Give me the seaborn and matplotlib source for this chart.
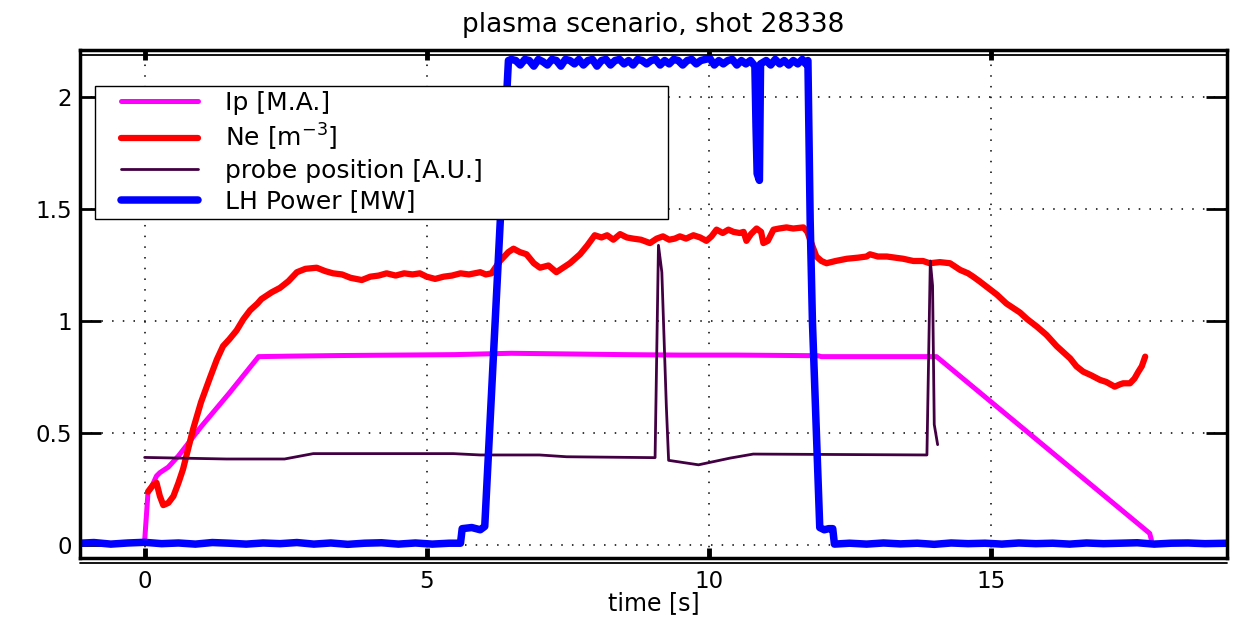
import numpy as np
import pandas as pd
import matplotlib
matplotlib.use("Agg")
import matplotlib.pyplot as plt
import seaborn as sns
from matplotlib.lines import Line2D
from matplotlib.legend_handler import HandlerLine2D

# ---------------- data ----------------
title = "plasma scenario, shot 28338"
xlabel = "time [s]"
labels = ["Ip [M.A.]", r"Ne [m$^{-3}$]", "probe position [A.U.]", "LH Power [MW]"]
xticks = [0, 5, 10, 15]
xticklabels = ["0", "5", "10", "15"]
yticks = [0, 0.5, 1, 1.5, 2]
yticklabels = ["0", "0.5", "1", "1.5", "2"]

ip_t = [0.0, 0.06, 0.12, 0.21, 0.27, 0.42, 0.6, 1.0, 1.5, 2.02, 2.5, 3.5, 4.5, 5.5,
        6.5, 7.5, 8.5, 9.5, 10.5, 11.5, 11.94, 12.0, 13.0, 14.04, 17.82, 17.85]
ip_v = [0.02, 0.24, 0.26, 0.31, 0.325, 0.35, 0.40, 0.53, 0.68, 0.843, 0.845, 0.848, 0.85, 0.852,
        0.858, 0.855, 0.852, 0.85, 0.85, 0.848, 0.847, 0.843, 0.843, 0.843, 0.054, 0.025]

ne_t = [0.06, 0.15, 0.21, 0.27, 0.33, 0.42, 0.51, 0.6, 0.68, 0.77, 0.86, 1.0, 1.16, 1.28,
        1.39, 1.5, 1.63, 1.75, 1.87, 2.0, 2.07, 2.25, 2.4, 2.55, 2.7, 2.85, 3.05, 3.2,
        3.34, 3.5, 3.65, 3.85, 4.0, 4.15, 4.29, 4.45, 4.6, 4.75, 4.88, 5.0, 5.15, 5.3,
        5.45, 5.6, 5.75, 5.95, 6.05, 6.15, 6.3, 6.45, 6.54, 6.65, 6.77, 6.9, 7.01, 7.16,
        7.23, 7.3, 7.42, 7.54, 7.72, 7.85, 7.98, 8.1, 8.2, 8.31, 8.43, 8.55, 8.66, 8.8,
        8.96, 9.08, 9.19, 9.3, 9.4, 9.49, 9.6, 9.73, 9.85, 9.96, 10.05, 10.14, 10.25,
        10.35, 10.44, 10.55, 10.62, 10.67, 10.75, 10.85, 10.93, 10.97, 11.05, 11.15,
        11.25, 11.38, 11.5, 11.68, 11.75, 11.85, 11.91, 12.0, 12.09, 12.25, 12.45, 12.65,
        12.8, 12.86, 13.0, 13.16, 13.3, 13.45, 13.63, 13.8, 13.92, 14.1, 14.28, 14.46,
        14.6, 14.69, 14.8, 14.93, 15.11, 15.28, 15.4, 15.52, 15.65, 15.82, 15.99, 16.17,
        16.3, 16.41, 16.52, 16.64, 16.78, 16.94, 17.05, 17.2, 17.3, 17.35, 17.47, 17.55,
        17.62, 17.68, 17.74]
ne_v = [0.24, 0.27, 0.28, 0.22, 0.18, 0.19, 0.22, 0.28, 0.34, 0.43, 0.52, 0.64, 0.75, 0.83,
        0.89, 0.92, 0.96, 1.01, 1.05, 1.08, 1.10, 1.13, 1.15, 1.18, 1.22, 1.235, 1.24, 1.225,
        1.215, 1.21, 1.195, 1.185, 1.20, 1.205, 1.215, 1.205, 1.215, 1.21, 1.215, 1.20, 1.19, 1.20,
        1.205, 1.215, 1.21, 1.22, 1.21, 1.215, 1.27, 1.31, 1.325, 1.31, 1.30, 1.26, 1.24, 1.25,
        1.235, 1.22, 1.24, 1.26, 1.30, 1.34, 1.385, 1.375, 1.385, 1.365, 1.39, 1.375, 1.37, 1.365,
        1.35, 1.37, 1.38, 1.365, 1.37, 1.38, 1.37, 1.385, 1.375, 1.36, 1.38, 1.41, 1.395,
        1.41, 1.40, 1.395, 1.40, 1.36, 1.39, 1.415, 1.40, 1.35, 1.36, 1.41,
        1.415, 1.42, 1.415, 1.42, 1.40, 1.33, 1.29, 1.27, 1.26, 1.27, 1.28, 1.285,
        1.29, 1.30, 1.29, 1.29, 1.285, 1.28, 1.27, 1.27, 1.26, 1.265, 1.26, 1.23,
        1.215, 1.20, 1.18, 1.155, 1.12, 1.08, 1.06, 1.04, 1.01, 0.977, 0.94, 0.89,
        0.86, 0.835, 0.80, 0.776, 0.76, 0.739, 0.73, 0.709, 0.72, 0.724, 0.724, 0.745,
        0.776, 0.80, 0.843]

probe_t = [0.0, 1.45, 2.48, 2.99, 5.47, 5.95, 7.0, 7.48, 9.05, 9.11, 9.17, 9.25, 9.29,
           9.82, 10.38, 10.79, 13.87, 13.93, 13.97, 14.0, 14.06]
probe_v = [0.393, 0.386, 0.386, 0.41, 0.41, 0.404, 0.404, 0.396, 0.392, 1.34, 1.22, 0.62, 0.38,
           0.36, 0.39, 0.408, 0.404, 1.27, 1.16, 0.54, 0.45]

lh_t = [-1.15, -0.9, -0.6, -0.3, 0.0, 0.3, 0.6, 0.9, 1.2, 1.5, 1.8, 2.1, 2.4, 2.7, 3.0,
        3.3, 3.6, 3.9, 4.2, 4.5, 4.8, 5.1, 5.4, 5.6, 5.63, 5.8, 5.95, 6.03,
        6.45, 6.5, 6.58, 6.66, 6.74, 6.82, 6.9, 6.98, 7.06, 7.14,
        7.22, 7.3, 7.38, 7.46, 7.54, 7.62, 7.7, 7.78, 7.86, 7.94,
        8.02, 8.1, 8.18, 8.26, 8.34, 8.42, 8.5, 8.58, 8.66, 8.74,
        8.82, 8.9, 8.98, 9.06, 9.14, 9.22, 9.3, 9.38, 9.46, 9.54,
        9.62, 9.7, 9.78, 9.86, 9.94, 10.02, 10.1, 10.18, 10.26, 10.34,
        10.42, 10.5, 10.58, 10.66, 10.74, 10.82, 10.84, 10.86, 10.9, 10.92,
        11.02, 11.1, 11.18, 11.26, 11.34, 11.42, 11.5, 11.58, 11.66, 11.72,
        11.76, 11.80, 11.84, 11.91, 11.97, 12.05, 12.13, 12.2,
        12.23, 12.5, 12.8, 13.1, 13.4, 13.7, 14.0, 14.3, 14.6, 14.9, 15.2, 15.5, 15.8,
        16.1, 16.4, 16.7, 17.0, 17.3, 17.6, 17.9, 18.2, 18.5, 18.8, 19.2]
lh_v = [0.01, 0.013, 0.006, 0.011, 0.014, 0.008, 0.011, 0.006, 0.013, 0.01, 0.006, 0.011,
        0.008, 0.013, 0.006, 0.011, 0.005, 0.01, 0.012, 0.006, 0.011, 0.006, 0.01, 0.01,
        0.075, 0.08, 0.07, 0.085,
        2.165, 2.17, 2.165, 2.145, 2.17, 2.165, 2.14, 2.17, 2.16, 2.145,
        2.17, 2.165, 2.14, 2.17, 2.165, 2.15, 2.17, 2.145, 2.165, 2.17,
        2.14, 2.165, 2.17, 2.145, 2.165, 2.17, 2.15, 2.165, 2.145, 2.17,
        2.165, 2.15, 2.165, 2.17, 2.145, 2.165, 2.15, 2.17, 2.165, 2.145,
        2.165, 2.17, 2.15, 2.165, 2.17, 2.175, 2.145, 2.165, 2.15, 2.165,
        2.17, 2.145, 2.165, 2.15, 2.165, 2.14, 1.87, 1.66, 1.63, 2.15,
        2.165, 2.145, 2.17, 2.15, 2.165, 2.145, 2.165, 2.15, 2.17, 2.15,
        2.165, 1.45, 1.0, 0.5, 0.08, 0.07, 0.075, 0.075,
        0.006, 0.01, 0.006, 0.011, 0.007, 0.01, 0.005, 0.011, 0.008, 0.01, 0.006, 0.011, 0.008,
        0.01, 0.006, 0.011, 0.008, 0.01, 0.012, 0.006, 0.01, 0.011, 0.008, 0.01]

colors = ["#ff00ff", "#ff0000", "#420042", "#0000ff"]
widths = [3.6, 4.5, 2.0, 5.4]

# ---------------- drawing ----------------
sns.set_style("white")
plt.rcParams['font.family'] = ['DejaVu Sans']
plt.rcParams['mathtext.fontset'] = 'dejavusans'
plt.rcParams['text.color'] = 'black'
plt.rcParams['axes.labelcolor'] = 'black'
plt.rcParams['xtick.color'] = 'black'
plt.rcParams['ytick.color'] = 'black'

fig = plt.figure(figsize=(12.34, 6.22), dpi=100)
ax = fig.add_axes([0.0648, 0.1029, 0.9295, 0.8167])

series_t = [ip_t, ne_t, probe_t, lh_t]
series_v = [ip_v, ne_v, probe_v, lh_v]
handles = []
for t, v, c, w in zip(series_t, series_v, colors, widths):
    df = pd.DataFrame({"time": t, "value": v})
    sns.lineplot(data=df, x="time", y="value", ax=ax, color=c, linewidth=w,
                 sort=False, estimator=None, legend=False)
    ln = ax.lines[-1]
    ln.set_solid_joinstyle("round")
    ln.set_solid_capstyle("round")
    handles.append(Line2D([], [], color=c, linewidth=w))

ax.set_xlim(-1.147, 19.19)
ax.set_ylim(-0.056, 2.212)
ax.set_xticks(xticks)
ax.set_xticklabels(xticklabels)
ax.set_yticks(yticks)
ax.set_yticklabels(yticklabels)
ax.set_xlabel(xlabel, fontsize=17, labelpad=-2, color="black")
ax.set_ylabel("")
ax.set_title(title, fontsize=19, pad=13, color="black")

ax.grid(True, linestyle=(0, (1, 6)), color="black", linewidth=1.1)
ax.set_axisbelow(True)

ax.tick_params(axis="x", direction="in", length=7, width=3.5, top=True, bottom=True,
               labelsize=16.5, pad=9, colors="black")
ax.tick_params(axis="y", direction="in", length=15, width=2, left=True, right=True,
               labelsize=16.5, pad=6, colors="black")
for s in ax.spines.values():
    s.set_linewidth(2.5)
    s.set_color("black")

# double frame line (top inside, bottom outside), as in the reference
ax.plot([0, 1], [1 - 5 / 508, 1 - 5 / 508], transform=ax.transAxes, color="black",
        linewidth=1.3, clip_on=False)
ax.plot([0, 1], [-5 / 508, -5 / 508], transform=ax.transAxes, color="black",
        linewidth=1.3, clip_on=False)

leg = ax.legend(handles=handles, labels=labels, loc="upper left",
                bbox_to_anchor=(0.0131, 0.673, 0.4996, 0.256), mode="expand",
                fontsize=18, frameon=True, fancybox=False, edgecolor="black",
                framealpha=1, borderpad=0.2, labelspacing=0.26, handlelength=3.92,
                handletextpad=1.08, borderaxespad=0,
                handler_map={Line2D: HandlerLine2D(xpad=0.84)})
leg.get_frame().set_linewidth(1.0)
for txt in leg.get_texts():
    txt.set_color("black")

fig.savefig("out.png", dpi=100)
